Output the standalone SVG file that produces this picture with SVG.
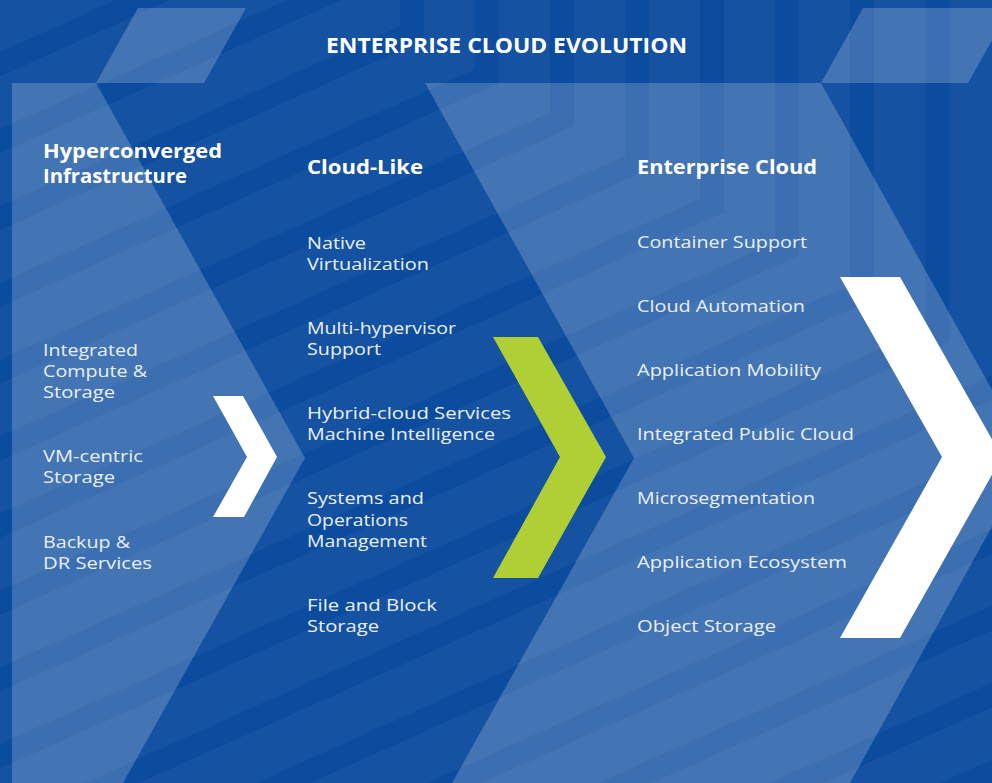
<svg xmlns="http://www.w3.org/2000/svg" width="992" height="783" viewBox="0 0 992 783">
  <style>
    .title { font-family: "Open Sans", "Liberation Sans", sans-serif; font-weight: 700; font-size: 21px; fill: #ffffff; }
    .head { font-family: "Open Sans", "Liberation Sans", sans-serif; font-weight: 700; font-size: 20px; fill: #ffffff; }
    .item { font-family: "Open Sans", "Liberation Sans", sans-serif; font-weight: 400; font-size: 17px; fill: #eaf0f8; }
    .panel { fill: #ffffff; fill-opacity: 0.2; }
    .band { fill: #ffffff; fill-opacity: 0.035; }
  </style>
  <defs>
    <pattern id="diag" patternUnits="userSpaceOnUse" width="20" height="76.9" patternTransform="translate(0,384.1) skewY(-24.2)">
      <rect class="band" x="0" y="0" width="20" height="52.3"/>
    </pattern>
    <pattern id="vert" patternUnits="userSpaceOnUse" width="75" height="20" patternTransform="translate(574,0)">
      <rect class="band" x="0" y="0" width="51" height="20"/>
    </pattern>
    <clipPath id="clipV"><polygon points="355,0 992,0 992,366"/></clipPath>
    <clipPath id="clipD"><polygon points="0,0 355,0 992,366 992,783 0,783"/></clipPath>
  </defs>

  <g id="background">
    <rect x="0" y="0" width="992" height="783" fill="#0c4c9e"/>
    <rect x="0" y="0" width="992" height="783" fill="url(#diag)" clip-path="url(#clipD)"/>
    <rect x="0" y="0" width="992" height="783" fill="url(#vert)" clip-path="url(#clipV)"/>
  </g>

  <g id="panels">
    <polygon class="panel" points="138,8 246,8 204,83 96,83"/>
    <polygon class="panel" points="863,8 1010,8 968,83 821,83"/>
    <polygon class="panel" points="12,83 96,83 305,458 123,783 12,783"/>
    <polygon class="panel" points="425,83 821,83 1030,458 850,783 452,783 634,458"/>
  </g>

  <g id="title">
    <text class="title" x="326" y="53" textLength="361" lengthAdjust="spacingAndGlyphs">ENTERPRISE CLOUD EVOLUTION</text>
  </g>

  <g id="node-hyperconverged">
    <text class="head" x="43" y="158" textLength="179" lengthAdjust="spacingAndGlyphs">Hyperconverged</text>
    <text class="head" x="43" y="182.5" textLength="144" lengthAdjust="spacingAndGlyphs">Infrastructure</text>
    <text class="item" x="43" y="356" textLength="95" lengthAdjust="spacingAndGlyphs">Integrated</text>
    <text class="item" x="43" y="377" textLength="104" lengthAdjust="spacingAndGlyphs">Compute &amp;</text>
    <text class="item" x="43" y="398" textLength="72" lengthAdjust="spacingAndGlyphs">Storage</text>
    <text class="item" x="43" y="462" textLength="100" lengthAdjust="spacingAndGlyphs">VM-centric</text>
    <text class="item" x="43" y="483" textLength="72" lengthAdjust="spacingAndGlyphs">Storage</text>
    <text class="item" x="43" y="548" textLength="87" lengthAdjust="spacingAndGlyphs">Backup &amp;</text>
    <text class="item" x="43" y="569" textLength="109" lengthAdjust="spacingAndGlyphs">DR Services</text>
  </g>

  <g id="node-cloud-like">
    <text class="head" x="307" y="174" textLength="116" lengthAdjust="spacingAndGlyphs">Cloud-Like</text>
    <text class="item" x="307" y="249" textLength="59" lengthAdjust="spacingAndGlyphs">Native</text>
    <text class="item" x="307" y="270" textLength="122" lengthAdjust="spacingAndGlyphs">Virtualization</text>
    <text class="item" x="307" y="334" textLength="149" lengthAdjust="spacingAndGlyphs">Multi-hypervisor</text>
    <text class="item" x="307" y="355" textLength="74" lengthAdjust="spacingAndGlyphs">Support</text>
    <text class="item" x="307" y="419" textLength="204" lengthAdjust="spacingAndGlyphs">Hybrid-cloud Services</text>
    <text class="item" x="307" y="440" textLength="188" lengthAdjust="spacingAndGlyphs">Machine Intelligence</text>
    <text class="item" x="307" y="504" textLength="117" lengthAdjust="spacingAndGlyphs">Systems and</text>
    <text class="item" x="307" y="526" textLength="101" lengthAdjust="spacingAndGlyphs">Operations</text>
    <text class="item" x="307" y="547" textLength="120" lengthAdjust="spacingAndGlyphs">Management</text>
    <text class="item" x="307" y="611" textLength="130" lengthAdjust="spacingAndGlyphs">File and Block</text>
    <text class="item" x="307" y="632" textLength="72" lengthAdjust="spacingAndGlyphs">Storage</text>
  </g>

  <g id="node-enterprise-cloud">
    <text class="head" x="637" y="174" textLength="180" lengthAdjust="spacingAndGlyphs">Enterprise Cloud</text>
    <text class="item" x="637" y="248" textLength="170" lengthAdjust="spacingAndGlyphs">Container Support</text>
    <text class="item" x="637" y="312" textLength="168" lengthAdjust="spacingAndGlyphs">Cloud Automation</text>
    <text class="item" x="637" y="376" textLength="184" lengthAdjust="spacingAndGlyphs">Application Mobility</text>
    <text class="item" x="637" y="440" textLength="217" lengthAdjust="spacingAndGlyphs">Integrated Public Cloud</text>
    <text class="item" x="637" y="504" textLength="178" lengthAdjust="spacingAndGlyphs">Microsegmentation</text>
    <text class="item" x="637" y="568" textLength="210" lengthAdjust="spacingAndGlyphs">Application Ecosystem</text>
    <text class="item" x="637" y="632" textLength="139" lengthAdjust="spacingAndGlyphs">Object Storage</text>
  </g>

  <g id="connectors">
    <polygon fill="#ffffff" points="213,396 243,396 277,457 244,517 213,517 247,457"/>
    <polygon fill="#afcf35" points="493,337 538,337 606,457 538,578 493,578 560,457"/>
    <polygon fill="#ffffff" points="840,277 900,277 1002,457 900,638 840,638 942,457"/>
  </g>
</svg>
